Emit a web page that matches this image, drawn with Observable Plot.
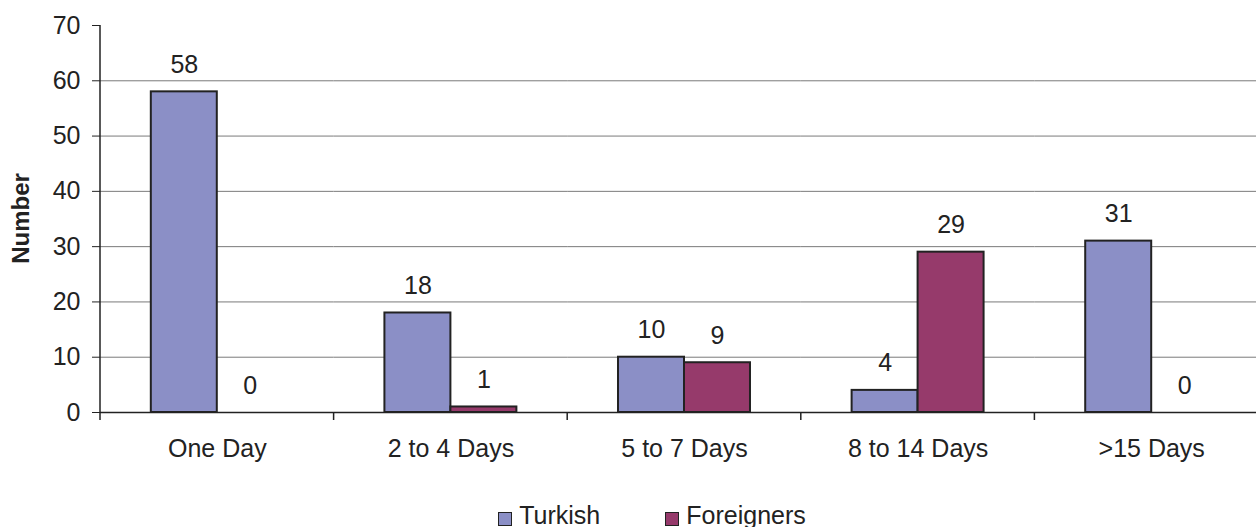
<!DOCTYPE html>
<html>
<head>
<meta charset="utf-8">
<script src="https://cdn.jsdelivr.net/npm/d3@7"></script>
<script src="https://cdn.jsdelivr.net/npm/@observablehq/plot@0.6"></script>
<style>
  html, body { margin: 0; padding: 0; background: #fff; overflow: hidden; }
  #chart { width: 1256px; }
  .legend {
    display: flex; justify-content: center; align-items: center; gap: 65px;
    font-family: "Liberation Sans", Arial, sans-serif; font-size: 25px; color: #222;
    height: 27px; line-height: 25px; margin-top: 2px; margin-left: 48px;
  }
  .legend .item { display: flex; align-items: center; }
  .legend .swatch { width: 12px; height: 12px; border: 1px solid #222; margin-right: 7px; margin-top: 6px; }
</style>
</head>
<body>
<div id="chart"></div>
<script>
// Length of stay, by nationality
const categories = ["One Day", "2 to 4 Days", "5 to 7 Days", "8 to 14 Days", ">15 Days"];
const turkish = [58, 18, 10, 4, 31];
const foreigners = [0, 1, 9, 29, 0];
const series = ["Turkish", "Foreigners"];
const colors = ["#8B8FC6", "#963A6B"];
const yTicks = [0, 10, 20, 30, 40, 50, 60, 70];
const yTitle = "Number";

const data = categories.flatMap((c, i) => [
  {category: c, series: series[0], value: turkish[i]},
  {category: c, series: series[1], value: foreigners[i]}
]);

const plot = Plot.plot({
  width: 1256,
  height: 500,
  marginLeft: 100,
  marginRight: -12,
  marginTop: 25,
  marginBottom: 88,
  style: {fontFamily: "'Liberation Sans', Arial, sans-serif", fontSize: "25px", color: "#222", background: "#fff", overflow: "hidden"},
  fx: {domain: categories, paddingInner: 0, paddingOuter: 0, round: false, label: null},
  x: {domain: series, paddingInner: 0, paddingOuter: 0.77, round: false, axis: null},
  y: {domain: [0, 70]},
  color: {domain: series, range: colors},
  marks: [
    Plot.gridY({ticks: yTicks.filter(t => t > 0 && t < 70), stroke: "#7a7a7a", strokeOpacity: 1, strokeWidth: 1}),
    Plot.ruleY([0], {stroke: "#222", strokeWidth: 1.5}),
    Plot.barY(data, {fx: "category", x: "series", y: "value", fill: "series", stroke: "#222", strokeWidth: 2}),
    Plot.text(data, {fx: "category", x: "series", y: "value", text: d => String(d.value), lineAnchor: "bottom", dy: -19, fill: "#222", fontSize: 25}),
    Plot.axisY({ticks: yTicks, tickSize: 8, tickPadding: 12, label: null, fontSize: 25, stroke: "#222"}),
    Plot.axisFx({anchor: "bottom", tickSize: 0, tickPadding: 27, label: null, fontSize: 25})
  ]
});

// Axis line and category boundary ticks, placed with the plot's own scales
const y = plot.scale("y");
const fx = plot.scale("fx");
const svg = d3.select(plot);
const y0 = y.apply(0);
const xLeft = fx.apply(categories[0]);
svg.append("line")
  .attr("x1", xLeft).attr("x2", xLeft)
  .attr("y1", y.apply(70)).attr("y2", y0 + 8)
  .attr("stroke", "#222").attr("stroke-width", 1.5);
const bounds = categories.map(c => fx.apply(c)).concat([fx.apply(categories[categories.length - 1]) + fx.bandwidth]);
svg.append("g").selectAll("line").data(bounds.slice(1)).join("line")
  .attr("x1", d => d).attr("x2", d => d)
  .attr("y1", y0).attr("y2", y0 + 8)
  .attr("stroke", "#222").attr("stroke-width", 1.5);
svg.append("text")
  .attr("transform", `translate(23,${(y.apply(70) + y0) / 2}) rotate(-90)`)
  .attr("text-anchor", "middle").attr("dominant-baseline", "middle")
  .attr("font-weight", "bold").attr("font-size", 24).attr("fill", "#222")
  .text(yTitle);

const chart = document.getElementById("chart");
chart.appendChild(plot);

const legend = document.createElement("div");
legend.className = "legend";
series.forEach((s, i) => {
  const item = document.createElement("div");
  item.className = "item";
  const sw = document.createElement("span");
  sw.className = "swatch";
  sw.style.background = colors[i];
  const label = document.createElement("span");
  label.textContent = s;
  item.appendChild(sw);
  item.appendChild(label);
  legend.appendChild(item);
});
chart.appendChild(legend);
</script>
</body>
</html>
